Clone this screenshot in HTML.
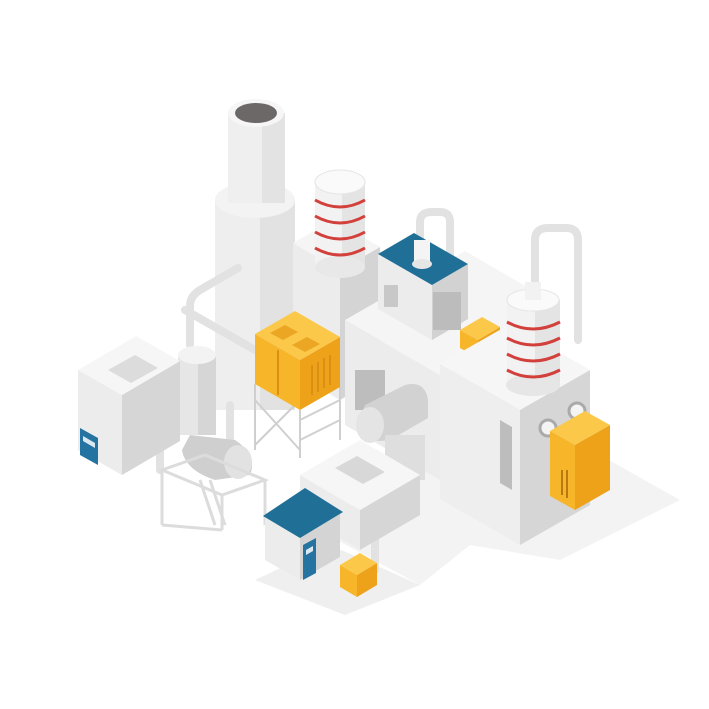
<!DOCTYPE html>
<html><head><style>html,body{margin:0;padding:0;background:#fff}svg{display:block}</style></head>
<body>
<svg width="709" height="709" viewBox="0 0 709 709" xmlns="http://www.w3.org/2000/svg">
<!-- ground shadows -->
<polygon points="300,520 420,585 470,545 560,560 680,500 600,455 430,440" fill="#f3f3f3"/>
<polygon points="255,580 345,615 420,585 330,545" fill="#efefef"/>

<!-- chimney -->
<rect x="215" y="200" width="80" height="210" fill="#eeeeee"/>
<rect x="260" y="200" width="35" height="210" fill="#e2e2e2"/>
<ellipse cx="255" cy="200" rx="40" ry="18" fill="#f3f3f3"/>
<rect x="228" y="113" width="57" height="90" fill="#efefef"/>
<rect x="262" y="113" width="23" height="90" fill="#e3e3e3"/>
<ellipse cx="256" cy="113" rx="28" ry="14" fill="#f6f6f6"/>
<ellipse cx="256" cy="113" rx="21" ry="10" fill="#6c6868"/>

<!-- pipes -->
<g fill="none" stroke="#e2e2e2" stroke-width="8" stroke-linecap="round" stroke-linejoin="round">
<path d="M238,268 L200,290 Q190,296 190,306 L190,345"/>
<path d="M185,310 L255,350"/>
<path d="M420,240 L420,222 Q420,212 432,212 L440,212 Q450,212 450,222 L450,262"/>
<path d="M535,290 L535,240 Q535,228 548,228 L566,228 Q578,228 578,240 L578,340"/>
<path d="M510,318 L495,318 Q488,318 488,326 L488,350"/>
<path d="M230,405 L230,440"/>
<path d="M160,400 L160,470"/>
<path d="M360,520 L375,520 L375,570"/>
<path d="M370,295 L440,340 L500,380"/>
</g>

<!-- left cylinder -->
<rect x="178" y="355" width="38" height="80" fill="#e6e6e6"/>
<rect x="198" y="355" width="18" height="80" fill="#d6d6d6"/>
<ellipse cx="197" cy="355" rx="19" ry="9" fill="#f3f3f3"/>

<!-- left box -->
<polygon points="122,475 78,450 78,370 122,395" fill="#ececec"/>
<polygon points="122,475 180,441 180,361 122,395" fill="#d6d6d6"/>
<polygon points="122,395 78,370 136,336 180,361" fill="#f6f6f6"/>
<polygon points="108,370 135,355 158,368 131,383" fill="#dcdcdc"/>
<polygon points="80,428 98,438 98,465 80,455" fill="#2473a0"/>
<polygon points="83,436 95,443 95,448 83,441" fill="#dbe8f0"/>

<!-- red tank box -->
<polygon points="340,400 293,373 293,243 340,270" fill="#ececec"/>
<polygon points="340,400 380,377 380,247 340,270" fill="#d4d4d4"/>
<polygon points="340,270 293,243 333,220 380,247" fill="#f5f5f5"/>
<!-- red tank -->
<rect x="315" y="182" width="50" height="85" fill="#f2f2f2"/>
<rect x="342" y="182" width="23" height="85" fill="#e4e4e4"/>
<ellipse cx="340" cy="267" rx="25" ry="11" fill="#e8e8e8"/>
<ellipse cx="340" cy="182" rx="25" ry="12" fill="#fafafa" stroke="#e5e5e5"/>
<g fill="none" stroke="#d2403c" stroke-width="3">
<path d="M315,200 Q340,214 365,200"/><path d="M315,216 Q340,230 365,216"/>
<path d="M315,232 Q340,246 365,232"/><path d="M315,248 Q340,262 365,248"/>
</g>

<!-- big platform A -->
<polygon points="440,480 345,425 345,320 440,375" fill="#ececec"/>
<polygon points="440,480 560,411 560,306 440,375" fill="#d8d8d8"/>
<polygon points="440,375 345,320 465,251 560,306" fill="#f5f5f5"/>
<rect x="355" y="370" width="30" height="40" fill="#bdbdbd"/>

<!-- blue box -->
<polygon points="432,340 378,309 378,254 432,285" fill="#ececec"/>
<polygon points="432,340 468,319 468,264 432,285" fill="#d2d2d2"/>
<polygon points="432,285 378,254 414,233 468,264" fill="#1f6f96"/>
<rect x="433" y="292" width="28" height="38" fill="#bcbcbc"/>
<rect x="384" y="285" width="14" height="22" fill="#c8c8c8"/>
<rect x="414" y="240" width="16" height="24" fill="#f4f4f4"/>
<ellipse cx="422" cy="264" rx="10" ry="5" fill="#e6e6e6"/>

<!-- small yellow on platform -->
<polygon points="478,358 460,348 460,330 478,340" fill="#f7b52a"/>
<polygon points="478,358 500,345 500,327 478,340" fill="#eda21a"/>
<polygon points="478,340 460,330 482,317 500,327" fill="#fbc84a"/>

<!-- box B -->
<polygon points="520,545 440,499 440,364 520,410" fill="#eeeeee"/>
<polygon points="520,545 590,505 590,370 520,410" fill="#d6d6d6"/>
<polygon points="520,410 440,364 510,324 590,370" fill="#f6f6f6"/>
<polygon points="500,420 512,427 512,490 500,483" fill="#bdbdbd"/>
<circle cx="548" cy="428" r="8" fill="#f4f4f4" stroke="#aaa" stroke-width="3"/>
<circle cx="577" cy="411" r="8" fill="#f4f4f4" stroke="#aaa" stroke-width="3"/>

<!-- right red tank -->
<rect x="507" y="300" width="53" height="85" fill="#f2f2f2"/>
<rect x="535" y="300" width="25" height="85" fill="#e4e4e4"/>
<ellipse cx="533" cy="385" rx="27" ry="11" fill="#e6e6e6"/>
<ellipse cx="533" cy="300" rx="26" ry="11" fill="#fafafa" stroke="#e5e5e5"/>
<rect x="525" y="282" width="16" height="18" fill="#f2f2f2"/>
<g fill="none" stroke="#d2403c" stroke-width="3">
<path d="M507,322 Q533,336 560,322"/><path d="M507,338 Q533,352 560,338"/>
<path d="M507,354 Q533,368 560,354"/><path d="M507,370 Q533,384 560,370"/>
</g>

<!-- right yellow -->
<polygon points="575,510 550,496 550,431 575,445" fill="#f7b52a"/>
<polygon points="575,510 610,490 610,425 575,445" fill="#eda21a"/>
<polygon points="575,445 550,431 585,411 610,425" fill="#fbc84a"/>
<g stroke="#b87a10" stroke-width="2"><line x1="562" y1="470" x2="562" y2="495"/><line x1="567" y1="470" x2="567" y2="498"/></g>

<!-- horizontal tanks -->
<g>
<path d="M365,405 L405,385 Q425,380 428,400 L428,418 L390,440 Q360,445 358,425 Z" fill="#d2d2d2"/>
<ellipse cx="370" cy="425" rx="14" ry="18" fill="#e4e4e4"/>
<rect x="385" y="435" width="40" height="45" fill="#dedede"/>
<path d="M190,435 L235,440 Q258,455 250,475 L215,480 Q185,470 182,450 Z" fill="#cfcfcf"/>
<ellipse cx="238" cy="462" rx="14" ry="17" fill="#e2e2e2"/>
</g>

<!-- left scaffold -->
<g fill="none" stroke="#dcdcdc" stroke-width="3">
<polygon points="162,470 205,455 265,480 222,495"/>
<line x1="162" y1="470" x2="162" y2="525"/><line x1="222" y1="495" x2="222" y2="530"/>
<line x1="265" y1="480" x2="265" y2="525"/><line x1="162" y1="525" x2="222" y2="530"/>
<line x1="200" y1="480" x2="215" y2="525"/><line x1="210" y1="480" x2="225" y2="525"/>
</g>

<!-- yellow cooling tower stand -->
<g fill="none" stroke="#cfcfcf" stroke-width="2">
<line x1="255" y1="384" x2="255" y2="450"/><line x1="300" y1="410" x2="300" y2="458"/>
<line x1="340" y1="387" x2="340" y2="440"/>
<line x1="255" y1="400" x2="300" y2="450"/><line x1="300" y1="400" x2="255" y2="445"/>
<line x1="300" y1="420" x2="340" y2="400"/><line x1="300" y1="440" x2="340" y2="420"/>
</g>
<!-- yellow tower -->
<polygon points="300,410 255,384 255,334 300,360" fill="#f7b52a"/>
<polygon points="300,410 340,387 340,337 300,360" fill="#eda21a"/>
<polygon points="300,360 255,334 295,311 340,337" fill="#fbc84a"/>
<g stroke="#d99015" stroke-width="2">
<line x1="278" y1="350" x2="278" y2="395"/>
<line x1="312" y1="365" x2="312" y2="395"/><line x1="318" y1="362" x2="318" y2="392"/>
<line x1="324" y1="358" x2="324" y2="388"/><line x1="330" y1="355" x2="330" y2="385"/>
</g>
<polygon points="270,333 285,325 298,332 283,340" fill="#eba624"/>
<polygon points="292,345 307,337 320,344 305,352" fill="#eba624"/>

<!-- middle box -->
<polygon points="360,550 300,515 300,475 360,510" fill="#ececec"/>
<polygon points="360,550 420,515 420,475 360,510" fill="#d6d6d6"/>
<polygon points="360,510 300,475 360,440 420,475" fill="#f6f6f6"/>
<polygon points="335,468 357,456 385,472 363,484" fill="#d8d8d8"/>

<!-- house -->
<polygon points="300,580 265,560 265,515 300,535" fill="#ececec"/>
<polygon points="300,580 340,557 340,512 300,535" fill="#d4d4d4"/>
<polygon points="300,538 263,516 305,488 343,512" fill="#1f6f96"/>
<polygon points="303,545 316,538 316,573 303,580" fill="#2473a0"/>
<polygon points="306,550 313,546 313,551 306,555" fill="#dbe8f0"/>

<!-- small yellow on ground -->
<polygon points="357,597 340,587 340,565 357,575" fill="#f7b52a"/>
<polygon points="357,597 377,585 377,563 357,575" fill="#eda21a"/>
<polygon points="357,575 340,565 360,553 377,563" fill="#fbc84a"/>
</svg>
</body></html>
